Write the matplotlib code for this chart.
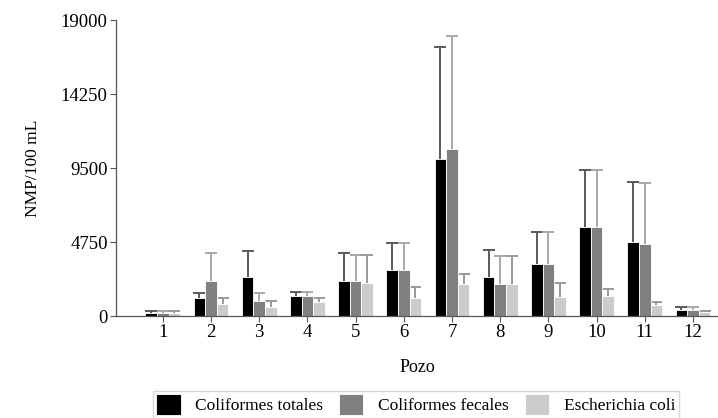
import matplotlib
matplotlib.use("Agg")
import matplotlib.pyplot as plt
import numpy as np

plt.rcParams["font.family"] = ["Liberation Serif", "DejaVu Serif"]

pozos = [1, 2, 3, 4, 5, 6, 7, 8, 9, 10, 11, 12]
series_names = ["Coliformes totales", "Coliformes fecales", "Escherichia coli"]

# mean values (NMP/100 mL)
totales = [200, 1150, 2500, 1280, 2250, 2950, 10080, 2500, 3340, 5710, 4750, 390]
fecales = [200, 2250, 960, 1280, 2250, 2950, 10720, 2050, 3340, 5710, 4620, 390]
ecoli = [200, 770, 580, 900, 2140, 1150, 2050, 2050, 1250, 1280, 700, 260]

# top of the error bars
totales_top = [300, 1475, 4180, 1540, 4040, 4690, 17270, 4240, 5400, 9370, 8600, 580]
fecales_top = [300, 4040, 1475, 1540, 3920, 4690, 17980, 3850, 5400, 9370, 8540, 580]
ecoli_top = [300, 1150, 960, 1150, 3940, 1860, 2700, 3850, 2140, 1730, 900, 320]

bar_colors = ["#000000", "#808080", "#cccccc"]
err_colors = ["#5a5a5a", "#a8a8a8", "#999999"]

fig = plt.figure(figsize=(7.18, 4.18), dpi=100)
ax = fig.add_axes([0.1616, 0.244, 0.8384, 0.708])

x = np.array(pozos, dtype=float)
width = 0.24
means = [totales, fecales, ecoli]
tops = [totales_top, fecales_top, ecoli_top]
for i, (vals, top) in enumerate(zip(means, tops)):
    vals = np.array(vals, dtype=float)
    err = np.array(top, dtype=float) - vals
    pos = x + (i - 1) * width
    ax.bar(pos, vals, width=width, color=bar_colors[i], edgecolor="white",
           linewidth=0.6, label=series_names[i], zorder=2)
    _, caps, _ = ax.errorbar(pos, vals, yerr=[np.zeros_like(err), err],
                             fmt="none", ecolor=err_colors[i], elinewidth=1.4,
                             capsize=4.5, capthick=1.4, zorder=1)
    # only the upper cap is drawn in the original
    caps[0].set_visible(False)

ax.set_xlim(0.03, 12.52)
ax.set_ylim(0, 19000)
ax.set_xticks(pozos)
ax.set_yticks([0, 4750, 9500, 14250, 19000])
ax.tick_params(axis="both", direction="out", length=4, width=0.8,
               color="#555555", labelsize=13.5, pad=2)
for side in ["top", "right"]:
    ax.spines[side].set_visible(False)
for side in ["left", "bottom"]:
    ax.spines[side].set_color("#555555")
    ax.spines[side].set_linewidth(0.9)

ax.set_ylabel("NMP/100 mL", fontsize=12.5, labelpad=14)
ax.set_xlabel("Pozo", fontsize=13, labelpad=13)

fig.legend(loc="upper left", bbox_to_anchor=(0.213, 0.0646), ncol=3,
           fontsize=12.5, frameon=True, fancybox=False, edgecolor="#cccccc",
           handlelength=1.4, handleheight=1.4, handletextpad=0.85,
           columnspacing=0.9, borderpad=0.2, borderaxespad=0)

fig.savefig("out.png", dpi=100)
